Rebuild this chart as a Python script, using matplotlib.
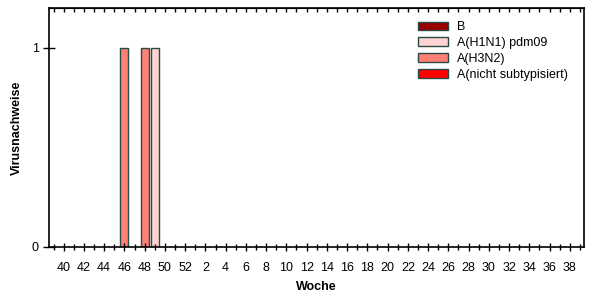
import matplotlib
matplotlib.use("Agg")
import matplotlib.pyplot as plt
from matplotlib.patches import Patch
import numpy as np

plt.rcParams['font.family'] = ['Liberation Sans', 'DejaVu Sans']

weeks = list(range(39, 53)) + list(range(1, 40))
series_names = ["B", "A(H1N1) pdm09", "A(H3N2)", "A(nicht subtypisiert)"]
series_colors = ["#990000", "#FFD3D3", "#FF8075", "#FF0000"]
# values per week for each series
values = {
    "B": {},
    "A(H1N1) pdm09": {49: 1},
    "A(H3N2)": {46: 1, 48: 1},
    "A(nicht subtypisiert)": {},
}

edge = "#2A4A44"
fig = plt.figure(figsize=(6.02, 3.0), dpi=100)
ax = fig.add_axes([0.0814, 0.1767, 0.8886, 0.7966])

x = np.arange(len(weeks))
bottom = np.zeros(len(weeks))
for name, col in zip(series_names, series_colors):
    v = np.array([values[name].get(w, 0) for w in weeks], dtype=float)
    mask = v > 0
    ax.bar(x[mask], v[mask], bottom=bottom[mask], width=0.78, color=col,
           edgecolor=edge, linewidth=1.0)
    bottom += v

ax.set_xlim(-0.45, 52.4)
ax.set_ylim(0, 1.2)
ax.set_yticks([0, 1])
ax.set_yticklabels(["0", "1"], fontsize=9)
ax.set_xticks(x)
ax.set_xticklabels([str(w) if i % 2 == 1 else "" for i, w in enumerate(weeks)], fontsize=9)
ax.tick_params(axis='x', direction='inout', length=6, width=1, pad=8)
ax.tick_params(axis='y', direction='inout', length=8, width=1)
for i, t in enumerate(ax.xaxis.get_major_ticks()):
    if i % 2 == 0:
        t.tick1line.set_markersize(4)

secx = ax.secondary_xaxis('top')
secx.set_xticks(x)
secx.set_xticklabels([])
secx.tick_params(direction='in', length=3, width=1)
for s in ax.spines.values():
    s.set_linewidth(1.2)

ax.set_xlabel("Woche", fontsize=9, fontweight='bold', labelpad=5)
ax.set_ylabel("Virusnachweise", fontsize=9, fontweight='bold', labelpad=6)

handles = [Patch(facecolor=c, edgecolor=edge, linewidth=1.0) for c in series_colors]
leg = ax.legend(handles, series_names, loc='upper left', bbox_to_anchor=(0.68, 0.965),
                frameon=False, fontsize=9, handlelength=2.4, handleheight=0.7,
                labelspacing=0.3, handletextpad=0.75, borderaxespad=0)

fig.savefig("out.png", dpi=100)
